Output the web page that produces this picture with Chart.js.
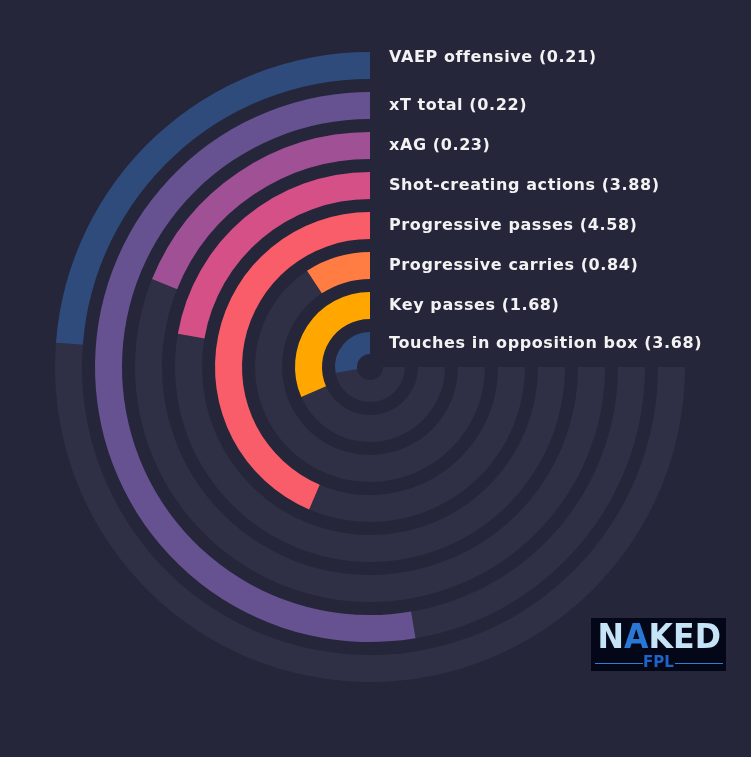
<!DOCTYPE html>
<html>
<head>
<meta charset="utf-8">
<script src="https://cdn.jsdelivr.net/npm/chart.js@4"></script>
<style>
  html, body { margin: 0; padding: 0; background: #25263a; }
  #wrap { position: relative; width: 751px; height: 757px; }
  canvas { position: absolute; left: 0; top: 0; }
  #logo { position: absolute; left: 591px; top: 618px; width: 135px; height: 53px; background: #030718; font-family: "DejaVu Sans", sans-serif; }
  #logo .big { position: absolute; left: 2px; top: 0px; width: 131px; text-align: center; font-weight: bold; font-size: 34px; line-height: 36px; color: #c6e4f7; transform: scaleX(0.93); transform-origin: center; }
  #logo .big span { color: #2a78d6; }
  #logo .fpl { position: absolute; left: 0; top: 36px; width: 135px; text-align: center; font-weight: bold; font-size: 15px; line-height: 17px; color: #1f63c8; }
  #logo .ln { position: absolute; top: 45px; height: 1px; background: #2d7fd8; }
</style>
</head>
<body>
<div id="wrap">
  <canvas id="c" width="751" height="757"></canvas>
  <div id="logo">
    <div class="big">N<span>A</span>KED</div>
    <div class="ln" style="left:4px;width:48px;"></div>
    <div class="fpl">FPL</div>
    <div class="ln" style="left:84px;width:48px;"></div>
  </div>
</div>
<script>
// ---- data (outermost ring first) ----
const metrics = [
  "VAEP offensive",
  "xT total",
  "xAG",
  "Shot-creating actions",
  "Progressive passes",
  "Progressive carries",
  "Key passes",
  "Touches in opposition box"
];
const rawValues = [0.21, 0.22, 0.23, 3.88, 4.58, 0.84, 1.68, 3.68];
const percentiles = [31.7, 70.2, 25.2, 29.7, 58.1, 12.3, 42.1, 37.0];
const barColors = ["#2f4b7c", "#665191", "#a05195", "#d45087", "#f95d6a", "#ff7c43", "#ffa600", "#2f4b7c"];

const BG = "#25263a";
const TRACK = "#2f3045";
const OUTER_R = 315;
const INNER_R = 12;
const RING_W = 27;
const INNER_RING_W = 23;
const GAP_W = 13;

const datasets = [];
percentiles.forEach((p, i) => {
  if (i > 0) {
    datasets.push({ data: [1], backgroundColor: ["rgba(0,0,0,0)"], weight: GAP_W, isGap: true });
  }
  datasets.push({
    label: metrics[i],
    data: [100 - p, p],
    backgroundColor: [TRACK, barColors[i]],
    weight: i === percentiles.length - 1 ? INNER_RING_W : RING_W,
    metricIndex: i
  });
});

const labelPlugin = {
  id: 'ringLabels',
  afterDatasetsDraw(chart) {
    const ctx = chart.ctx;
    ctx.save();
    const meta0 = chart.getDatasetMeta(0);
    const a0 = meta0.data[0];
    const cx = a0.x, cy = a0.y;
    // center hole
    ctx.fillStyle = BG;
    ctx.beginPath();
    ctx.arc(cx, cy, 13, 0, Math.PI * 2);
    ctx.fill();
    ctx.font = "bold 16px 'DejaVu Sans', sans-serif";
    try { ctx.letterSpacing = "0.6px"; } catch (e) {}
    ctx.fillStyle = "#f2f2f2";
    ctx.textBaseline = "middle";
    ctx.textAlign = "left";
    chart.data.datasets.forEach((ds, di) => {
      if (ds.isGap) return;
      const arc = chart.getDatasetMeta(di).data[1];
      const mid = (arc.outerRadius + arc.innerRadius) / 2;
      const i = ds.metricIndex;
      let y = cy - mid;
      if (i === 0) y -= 8;
      ctx.fillText(metrics[i] + " (" + rawValues[i].toFixed(2) + ")", cx + 19, y);
    });
    ctx.restore();
  }
};

new Chart(document.getElementById('c'), {
  type: 'doughnut',
  data: { labels: ["rest", "value"], datasets },
  options: {
    responsive: false,
    animation: false,
    rotation: 90,
    circumference: 270,
    radius: OUTER_R,
    cutout: (INNER_R / OUTER_R * 100) + '%',
    borderWidth: 0,
    hoverBorderWidth: 0,
    hoverOffset: 0,
    layout: { padding: { left: 0, right: 11, top: 0, bottom: 23 } },
    plugins: { legend: { display: false }, tooltip: { enabled: false } },
    events: []
  },
  plugins: [labelPlugin]
});
</script>
</body>
</html>
